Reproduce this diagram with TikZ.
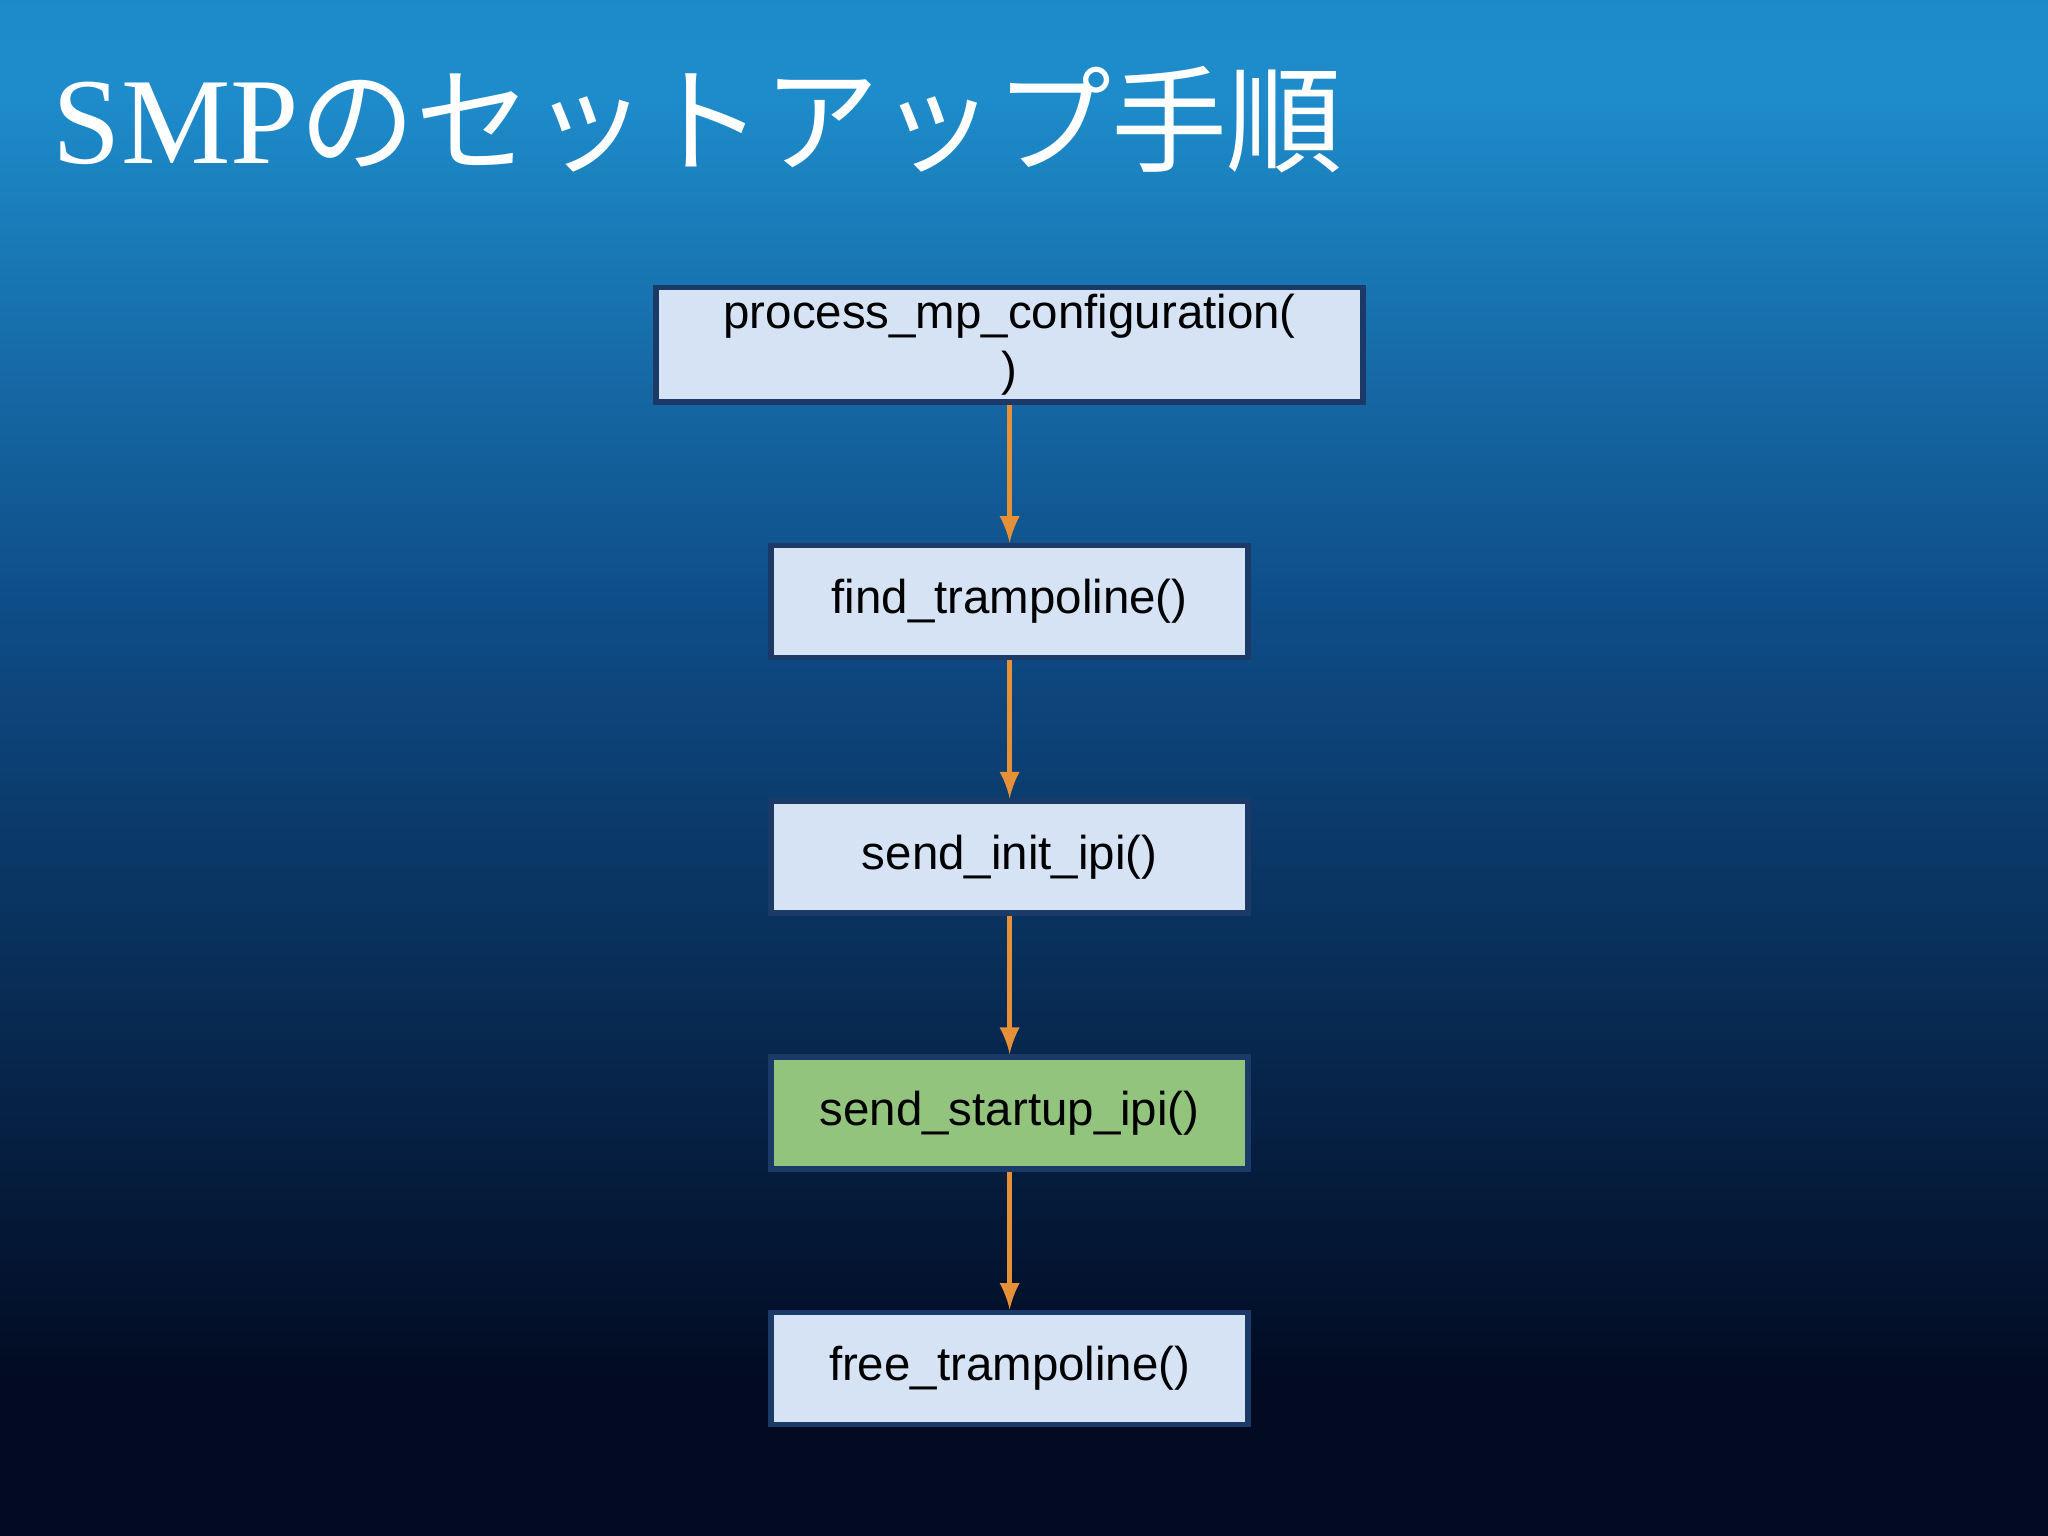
\documentclass[tikz,border=0pt]{standalone}
\usepackage{fontspec}
\setmainfont{Liberation Sans}
\newfontfamily\titlefont{Liberation Serif}
\newfontfamily\cjk{Noto Sans CJK JP}
\usetikzlibrary{positioning}
\definecolor{boxline}{HTML}{1B3A68}
\definecolor{boxfill}{HTML}{D5E3F4}
\definecolor{stepgreen}{HTML}{93C47D}
\definecolor{arrowc}{HTML}{E69138}
\definecolor{cbot}{HTML}{020B22}
\definecolor{cmid}{HTML}{0E4C86}
\definecolor{cmid2}{HTML}{1E8CCB}
\definecolor{chi}{HTML}{1A7EC0}
\definecolor{ctop}{HTML}{0A2F5E}
\pgfdeclareverticalshading{sea}{100bp}{%
  color(0bp)=(cbot); color(30bp)=(cbot); color(55bp)=(cmid);
  color(72bp)=(cmid2); color(88bp)=(chi); color(100bp)=(ctop)}
\tikzset{
  callbox/.style={draw=boxline, line width=1.6pt, fill=boxfill,
    minimum width=4.77cm, minimum height=1.12cm, inner sep=2pt,
    font=\fontsize{13.5}{15}\selectfont},
  flow/.style={draw=arrowc, line width=1.6pt, -latex}
}
\begin{document}
\begin{tikzpicture}[x=0.01306cm,y=-0.01306cm,node distance=1.38cm]

  % Background
  \useasboundingbox (0,0) rectangle (1568,1176);
  \shade[shading=sea] (0,0) rectangle (1568,1176);

  % Title
  \node[anchor=base west, text=white, inner sep=0pt] (title) at (40,125)
    {\titlefont\fontsize{35}{40}\selectfont SMP{\cjk\fontsize{33}{40}\selectfont のセットアップ手順}};

  % Steps
  \node[callbox, minimum width=7.07cm, minimum height=1.14cm, align=center,
    font=\fontsize{13.5}{16}\selectfont] (pmc) at (773,264)
    {process\_mp\_configuration(\\)};
  \node[callbox, below=of pmc] (findt) {find\_trampoline()};
  \node[callbox, below=of findt] (initipi) {send\_init\_ipi()};
  \node[callbox, fill=stepgreen, below=of initipi] (startipi) {send\_startup\_ipi()};
  \node[callbox, below=of startipi] (freet) {free\_trampoline()};

  % Arrows
  \draw[flow] (pmc) -- (findt);
  \draw[flow] (findt) -- (initipi);
  \draw[flow] (initipi) -- (startipi);
  \draw[flow] (startipi) -- (freet);

\end{tikzpicture}
\end{document}
